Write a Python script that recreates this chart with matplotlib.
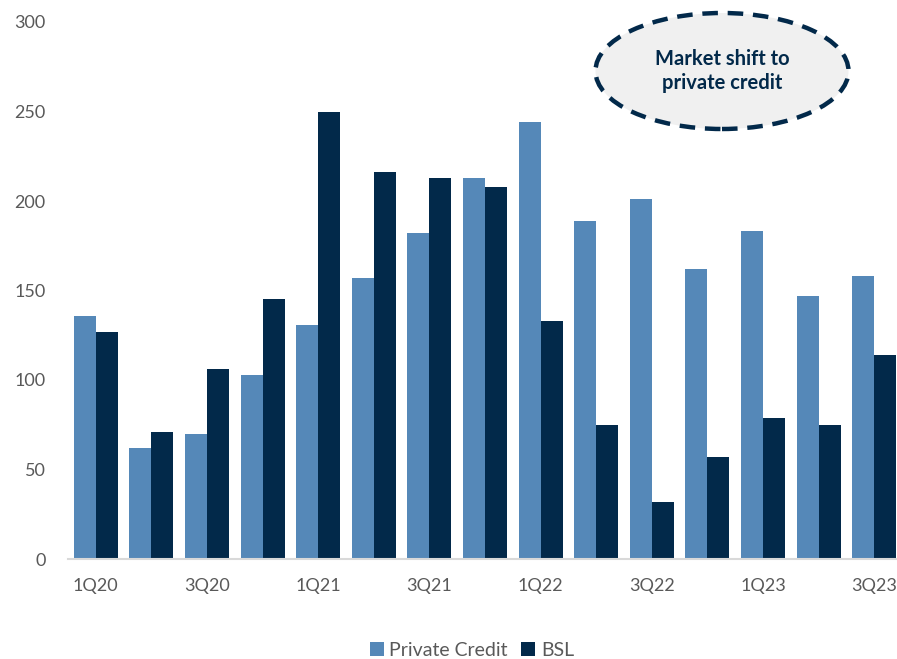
import matplotlib
matplotlib.use("Agg")
import matplotlib.pyplot as plt
from matplotlib.patches import Ellipse
import numpy as np

plt.rcParams['font.family'] = ['Lato', 'DejaVu Sans']

quarters = ["1Q20", "2Q20", "3Q20", "4Q20", "1Q21", "2Q21", "3Q21", "4Q21",
            "1Q22", "2Q22", "3Q22", "4Q22", "1Q23", "2Q23", "3Q23"]
private_credit = [136, 62, 70, 103, 131, 157, 182, 213, 244, 189, 201, 162, 183, 147, 158]
bsl = [127, 71, 106, 145, 250, 216, 213, 208, 133, 75, 32, 57, 79, 75, 114]

pc_color = "#5588B8"
bsl_color = "#02294A"
text_gray = "#595959"

W, H = 897, 659
fig = plt.figure(figsize=(W / 100, H / 100), dpi=100)
ax = fig.add_axes([68 / W, 1 - 559 / H, (902 - 68) / W, (559 - 22) / H])

x = np.arange(len(quarters))
bw = 0.395
ax.bar(x - bw / 2, private_credit, bw, color=pc_color, label="Private Credit")
ax.bar(x + bw / 2, bsl, bw, color=bsl_color, label="BSL")

ax.set_xlim(-0.5, len(quarters) - 0.5)
ax.set_ylim(0, 300)
ax.set_yticks(np.arange(0, 301, 50))
ax.set_xticks(x[::2])
ax.set_xticklabels(quarters[::2])

for s in ["top", "right", "left"]:
    ax.spines[s].set_visible(False)
ax.spines["bottom"].set_color("#D9D9D9")
ax.spines["bottom"].set_linewidth(1.5)
ax.tick_params(axis="both", length=0, labelsize=13, colors=text_gray)
ax.tick_params(axis="y", pad=16)
ax.tick_params(axis="x", pad=14)

fig.legend(loc="center", bbox_to_anchor=(472 / W, 1 - 650 / H), ncol=2, frameon=False,
           fontsize=14, labelcolor=text_gray, handlelength=0.7, handleheight=0.7,
           handletextpad=0.3, columnspacing=0.7)

ell = Ellipse((722 / W, 1 - 71 / H), 253 / W, 116 / H, transform=fig.transFigure,
              facecolor="#F0F0F0", edgecolor=bsl_color, linewidth=3.2,
              linestyle=(0, (3.5, 2.2)), zorder=5)
fig.patches.append(ell)
fig.text(722 / W, 1 - 71 / H, "Market shift to\nprivate credit", ha="center", va="center",
         fontsize=14.5, fontweight="bold", color=bsl_color, linespacing=1.3, zorder=6)

fig.savefig("out.png", dpi=100)
